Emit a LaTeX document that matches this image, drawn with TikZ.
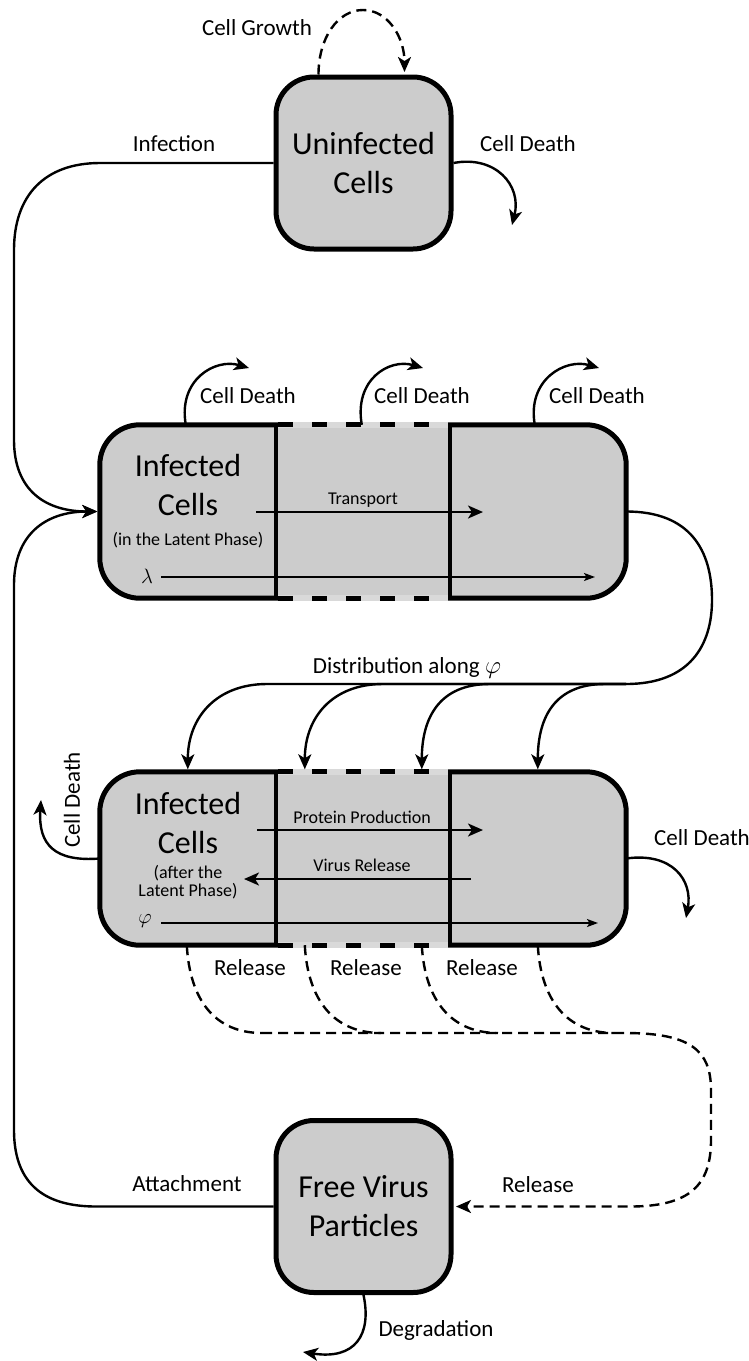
\documentclass[tikz,border=0pt]{standalone}
\usepackage{fontspec}
\setmainfont{Carlito}
\usetikzlibrary{arrows.meta,calc}
% Frame of a three-section compartment: solid outer border, dashed middle edges, two dividers
\newcommand{\panelframe}[1]{%
  \fill[boxfill, rounded corners=40pt] (#1.north west) rectangle (#1.south east);
  \draw[frame, rounded corners=40pt] (#1.north west) rectangle (#1.south east);
  \draw[gapfill] ($(#1.north west)+(178.5,0)$) -- ($(#1.north east)+(-178.5,0)$);
  \draw[gapfill] ($(#1.south west)+(178.5,0)$) -- ($(#1.south east)+(-178.5,0)$);
  \draw[dashedframe] ($(#1.north west)+(178.5,0)$) -- ($(#1.north east)+(-178.5,0)$);
  \draw[dashedframe] ($(#1.south west)+(178.5,0)$) -- ($(#1.south east)+(-178.5,0)$);
  \draw[divider] ($(#1.north west)+(176,0)$) -- ($(#1.south west)+(176,0)$);
  \draw[divider] ($(#1.north east)+(-176,0)$) -- ($(#1.south east)+(-176,0)$);
}
\begin{document}
\begin{tikzpicture}[x=1pt,y=-1pt,
  boxfill/.style={fill=gray!40},
  frame/.style={draw=black, line width=5pt},
  gapfill/.style={draw=gray!30, line width=6pt},
  dashedframe/.style={draw=black, line width=5pt, dash pattern=on 15pt off 19pt},
  divider/.style={draw=black, line width=4.5pt},
  bigtext/.style={font=\fontsize{32}{39}\selectfont, align=center, inner sep=0pt},
  lbl/.style={font=\fontsize{23}{27}\selectfont, inner sep=0pt},
  small/.style={font=\fontsize{18}{18}\selectfont, inner sep=0pt, align=center},
  mathlbl/.style={font=\fontsize{21}{24}\selectfont, inner sep=0pt},
  cbox/.style={draw, line width=5pt, fill=gray!40, rounded corners=38pt, bigtext,
    minimum width=175pt, minimum height=172pt},
  panel/.style={minimum width=526pt, minimum height=173pt, inner sep=0pt},
  flow/.style={line width=2.4pt, -{Stealth[length=15pt,width=13pt,inset=4pt]}},
  tobox/.style={shorten >=2.5pt},
  thinflow/.style={line width=1.4pt, -{Stealth[length=11pt,width=8pt,inset=2.5pt]}},
  plain/.style={line width=2.4pt},
  dashflow/.style={flow, dash pattern=on 10pt off 6pt},
  dashplain/.style={plain, dash pattern=on 10pt off 6pt},
]
\useasboundingbox (0,0) rectangle (749,1361);

% compartments
\node[cbox] (unc) at (363.5,163) {Uninfected\\Cells};
\node[panel] (lat) at (363,511.5) {};
\node[panel] (act) at (363,858.5) {};
\node[cbox] (fvp) at (363.5,1206.5) {Free Virus\\Particles};
\panelframe{lat}
\panelframe{act}

% compartment captions
\node[bigtext] (latname) at (188,485) {Infected\\Cells};
\node[small] (latnote) at (188,540) {(in the Latent Phase)};
\node[bigtext] (actname) at (188,823) {Infected\\Cells};
\node[small] (actnote) at (188,882) {(after the\\Latent Phase)};

% uninfected cells
\draw[dashflow, tobox] ($(unc.north)+(-45,0)$) .. controls +(0,-37) and (338,10) .. (363,10)
  .. controls (388,10) and ($(unc.north)+(41,-37)$) .. ($(unc.north)+(41,0)$);
\node[lbl] (growthl) at (257,28) {Cell Growth};
\coordinate (cdu) at (512,225);
\draw[flow] (unc.east) .. controls (495,155) and (522,185) .. (cdu);
\node[lbl] (cdul) at (528,144) {Cell Death};
\draw[flow, tobox] (unc.west) -- (100,163) .. controls (45,163) and (14,195) .. (14,250)
  -- (14,440) .. controls (14,490) and (45,511.5) .. (lat.west);
\node[lbl] (infl) at (174,144) {Infection};

% latent phase
\coordinate (tr0) at (256,512);
\coordinate (tr1) at (483,512);
\draw[flow] (tr0) -- (tr1);
\node[small] (trl) at (363,500) {Transport};
\node[mathlbl] (laml) at (147,576) {$\lambda$};
\coordinate (la0) at (161,577);
\coordinate (la1) at (595,577);
\draw[thinflow] (la0) -- (la1);

\coordinate (cd1) at (249,368);
\coordinate (cd2) at (423,368);
\coordinate (cd3) at (599,368);
\draw[flow] ($(lat.north west)+(86,0)$) .. controls +(-8,-45) and +(-34,-10) .. (cd1);
\draw[flow] ($(lat.north west)+(262,0)$) .. controls +(-8,-45) and +(-34,-10) .. (cd2);
\draw[flow] ($(lat.north west)+(435,0)$) .. controls +(-8,-45) and +(-34,-10) .. (cd3);
\node[lbl] (cd1l) at (248,396) {Cell Death};
\node[lbl] (cd2l) at (422,396) {Cell Death};
\node[lbl] (cd3l) at (597,396) {Cell Death};

% distribution along phi
\coordinate (dj) at (626,684);
\draw[plain] (lat.east) .. controls (690,511.5) and (712,550) .. (712,600)
  .. controls (712,645) and (690,684) .. (dj);
\draw[flow, tobox] (dj) -- (267,684) .. controls +(-50,0) and +(0,-55) .. ($(act.north west)+(88,0)$);
\draw[flow, tobox] (dj) -- (383,684) .. controls +(-50,0) and +(0,-55) .. ($(act.north west)+(205,0)$);
\draw[flow, tobox] (dj) -- (490,684) .. controls +(-50,0) and +(0,-55) .. ($(act.north west)+(322,0)$);
\draw[flow, tobox] (dj) -- (605,684) .. controls +(-50,0) and +(0,-55) .. ($(act.north west)+(438,0)$);
\node[lbl] (distl) at (407,668) {Distribution along $\varphi$};

% after the latent phase
\node[small] (ppl) at (362,817) {Protein Production};
\coordinate (pp0) at (257,830);
\coordinate (pp1) at (483,830);
\draw[flow] (pp0) -- (pp1);
\node[small] (vrl) at (362,865) {Virus Release};
\coordinate (vr0) at (471,879);
\coordinate (vr1) at (244,879);
\draw[flow] (vr0) -- (vr1);
\node[mathlbl] (phil) at (145,921) {$\varphi$};
\coordinate (ph0) at (161,923);
\coordinate (ph1) at (598,923);
\draw[thinflow] (ph0) -- (ph1);

\coordinate (cdl) at (41,800);
\draw[flow] (act.west) .. controls (55,862) and (38,845) .. (cdl);
\node[lbl, rotate=90] (cdll) at (72,800) {Cell Death};
\coordinate (cdr) at (686,918);
\draw[flow] (act.east) .. controls (672,852) and (693,880) .. (cdr);
\node[lbl] (cdrl) at (702,838) {Cell Death};

% release of virus particles
\coordinate (m1) at (262,1033);
\coordinate (m2) at (381,1033);
\coordinate (m3) at (498,1033);
\coordinate (m4) at (614,1033);
\draw[dashplain] ($(act.south west)+(87,0)$) .. controls +(3,55) and +(-47,0) .. (m1);
\draw[dashplain] ($(act.south west)+(205,0)$) .. controls +(3,55) and +(-47,0) .. (m2);
\draw[dashplain] ($(act.south west)+(322,0)$) .. controls +(3,55) and +(-47,0) .. (m3);
\draw[dashplain] ($(act.south west)+(438,0)$) .. controls +(3,55) and +(-47,0) .. (m4);
\draw[dashflow, tobox] (m1) -- (625,1033) .. controls (690,1033) and (711,1050) .. (711,1090)
  -- (711,1140) .. controls (711,1185) and (690,1206.5) .. (630,1206.5) -- (fvp.east);
\node[lbl] (rel1) at (250,968) {Release};
\node[lbl] (rel2) at (366,968) {Release};
\node[lbl] (rel3) at (482,968) {Release};
\node[lbl] (rel4) at (538,1185) {Release};

% free virus particles
\draw[flow, tobox] (fvp.west) -- (96,1206.5) .. controls (40,1206.5) and (14,1180) .. (14,1130)
  -- (14,585) .. controls (14,535) and (45,511.5) .. (lat.west);
\node[lbl] (attl) at (187,1184) {Attachment};
\coordinate (deg) at (303,1352);
\draw[flow] (fvp.south) .. controls (372,1335) and (355,1360) .. (deg);
\node[lbl] (degl) at (436,1330) {Degradation};
\end{tikzpicture}
\end{document}
